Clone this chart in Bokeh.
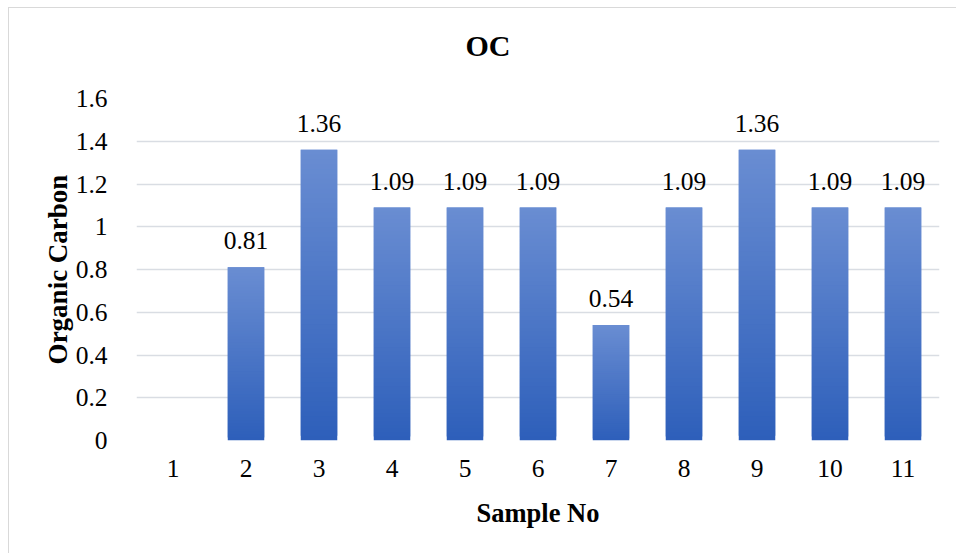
from bokeh.plotting import figure
from bokeh.models import ColumnDataSource, FactorRange, Range1d, FixedTicker, NumeralTickFormatter, LabelSet, Title
from bokeh.embed import file_html
from bokeh.resources import INLINE

# Organic carbon per sample
samples = ["1", "2", "3", "4", "5", "6", "7", "8", "9", "10", "11"]
organic_carbon = [0, 0.81, 1.36, 1.09, 1.09, 1.09, 0.54, 1.09, 1.36, 1.09, 1.09]
y_ticks = [0, 0.2, 0.4, 0.6, 0.8, 1.0, 1.2, 1.4, 1.6]

FONT = "Liberation Serif"
TOP_RGB = (0x6A, 0x8D, 0xD2)
BOT_RGB = (0x2D, 0x5F, 0xBA)
N_SLICES = 60


def mix(t):
    r, g, b = (round(lo + (hi - lo) * t) for lo, hi in zip(BOT_RGB, TOP_RGB))
    return f"#{r:02x}{g:02x}{b:02x}"


# each bar is drawn as stacked, slightly overlapping bands to give a vertical gradient
sx, sb, st, sc = [], [], [], []
for s, v in zip(samples, organic_carbon):
    if v <= 0:
        continue
    for k in range(N_SLICES):
        sx.append(s)
        sb.append(v * k / N_SLICES)
        st.append(v * min(k + 2, N_SLICES) / N_SLICES)
        sc.append(mix((k + 0.5) / N_SLICES))
bands = ColumnDataSource(dict(x=sx, bottom=sb, top=st, color=sc))

lab_x = [s for s, v in zip(samples, organic_carbon) if v > 0]
lab_y = [v for v in organic_carbon if v > 0]
labels_src = ColumnDataSource(dict(x=lab_x, y=lab_y, text=[f"{v:.2f}" for v in lab_y]))

p = figure(
    width=948, height=546,
    x_range=FactorRange(*samples, range_padding=0, factor_padding=0),
    y_range=Range1d(0, 1.6),
    output_backend="svg", toolbar_location=None,
    min_border_left=127, min_border_right=18, min_border_top=90, min_border_bottom=114,
    styles={"margin-left": "8px", "margin-top": "7px",
            "border-left": "1px solid #d9d9d9", "border-top": "1px solid #d9d9d9"},
)
p.outline_line_color = None
p.background_fill_color = "white"
p.border_fill_color = "white"

p.vbar(x="x", bottom="bottom", top="top", width=0.5, source=bands,
       fill_color="color", line_color=None)

p.add_layout(LabelSet(x="x", y="y", text="text", source=labels_src,
                      text_align="center", text_baseline="alphabetic", y_offset=18,
                      text_font=FONT, text_font_size="25.5px", text_color="#000000"))

p.title.text = "OC"
p.title.align = "left"
p.title.offset = 329
p.title.text_font = FONT
p.title.text_font_size = "30px"
p.title.text_font_style = "bold"
p.title.text_color = "#000000"
p.title.standoff = 10

# blank panel that keeps the title clear of the plot frame
p.add_layout(Title(text=" ", text_font_size="20px", standoff=8), "above")

p.xgrid.grid_line_color = None
p.ygrid.grid_line_color = "#d9dde3"
p.ygrid.grid_line_width = 1.5

p.yaxis.ticker = FixedTicker(ticks=y_ticks)
p.yaxis.formatter = NumeralTickFormatter(format="0.[0]")
for ax in (p.xaxis, p.yaxis):
    ax.axis_line_color = None
    ax.major_tick_line_color = None
    ax.minor_tick_line_color = None
    ax.major_label_text_font = FONT
    ax.major_label_text_font_size = "25.5px"
    ax.major_label_text_color = "#000000"
    ax.axis_label_text_font = FONT
    ax.axis_label_text_font_style = "bold"
    ax.axis_label_text_color = "#000000"

p.xaxis.axis_label = "Sample No"
p.yaxis.axis_label = "Organic Carbon"
p.xaxis.axis_label_text_font_size = "26.5px"
p.yaxis.axis_label_text_font_size = "27px"
p.xaxis.major_label_standoff = 13
p.yaxis.major_label_standoff = 23
p.xaxis.axis_label_standoff = 18
p.yaxis.axis_label_standoff = 0

open("out.html", "w").write(file_html(p, INLINE))
